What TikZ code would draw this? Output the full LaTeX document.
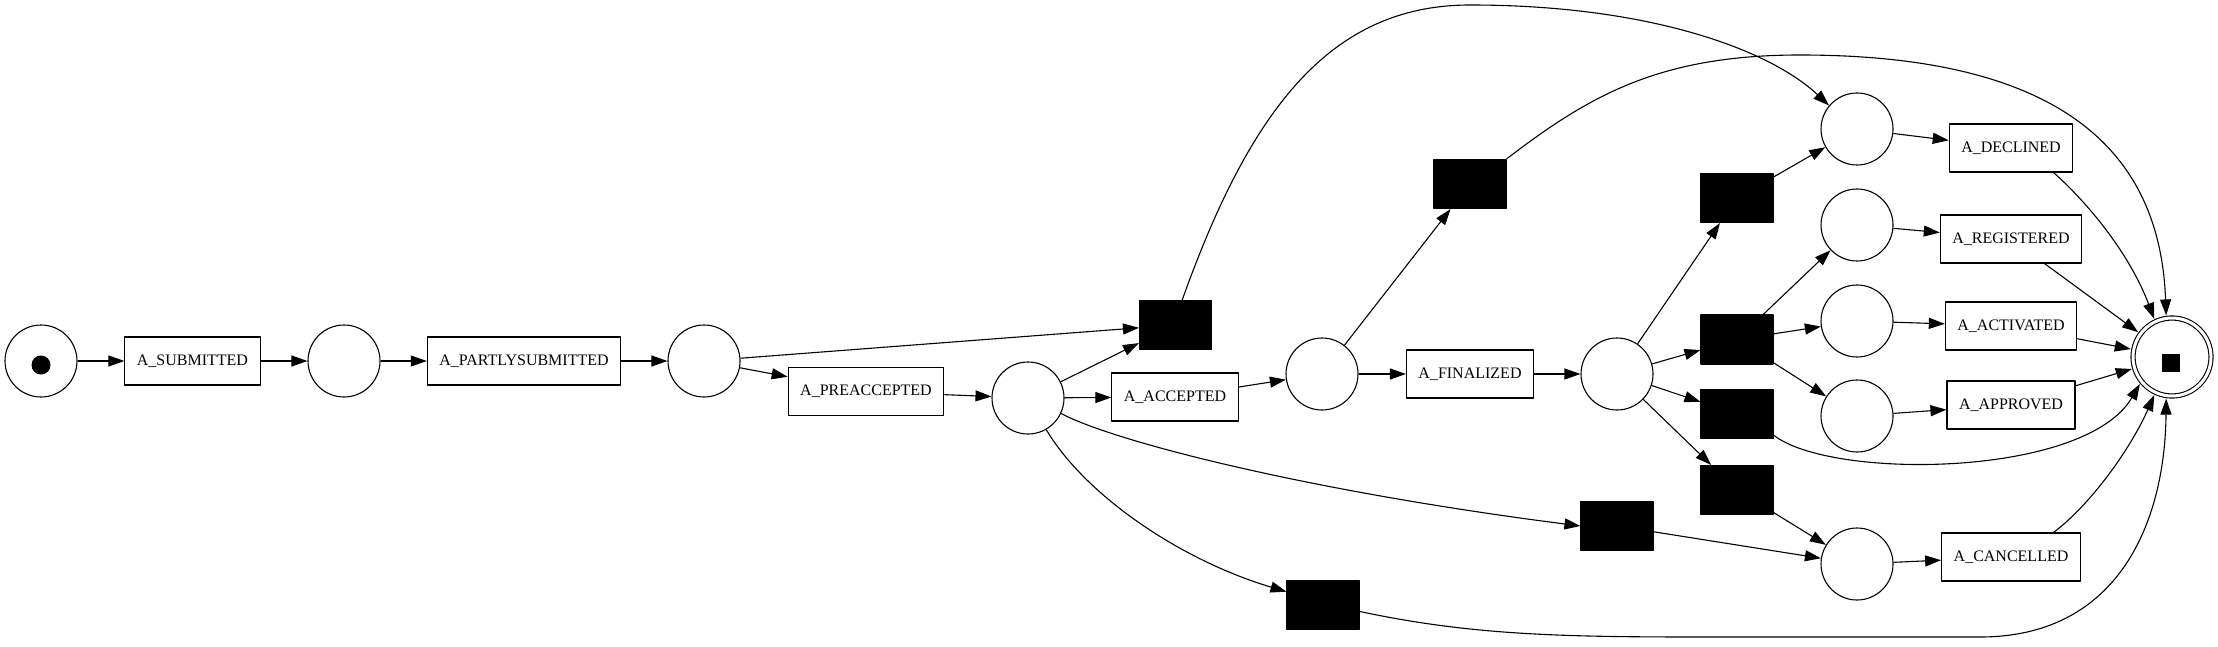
\documentclass[tikz,border=0pt]{standalone}
\usepackage{fontspec}
\setmainfont{Liberation Serif}
\usetikzlibrary{arrows.meta}
\begin{document}
\begin{tikzpicture}[x=1pt,y=-1pt,line width=1.1pt,line join=round,>={Triangle[length=16pt,width=11pt]},font=\fontsize{16}{19}\selectfont,
	place/.style={draw,circle,minimum size=72pt,inner sep=0pt},
	silent/.style={draw,fill=black,minimum width=72pt,minimum height=49pt,inner sep=0pt},
	task/.style={draw,minimum height=48pt,inner xsep=12pt,inner ysep=0pt}]
	\useasboundingbox (0,0) rectangle (2218,647);
	\node[place] (pstart) at (41,361) {};
	\node[fill,circle,inner sep=0pt,minimum size=19pt] (pstarttok) at (41,365) {};
	\node[task] (tsub) at (192.5,361) {A\_SUBMITTED};
	\node[place] (p1) at (344,361) {};
	\node[task] (tpart) at (524,361) {A\_PARTLYSUBMITTED};
	\node[place] (p2) at (704,361) {};
	\node[task] (tpre) at (866,391.5) {A\_PREACCEPTED};
	\node[place] (p3) at (1028,398) {};
	\node[silent] (tau1) at (1175.5,325) {};
	\node[task] (tacc) at (1175,397) {A\_ACCEPTED};
	\node[place] (p4) at (1322,374) {};
	\node[silent] (tau2) at (1470,184) {};
	\node[task] (tfin) at (1470,374) {A\_FINALIZED};
	\node[silent] (tau3) at (1323,605) {};
	\node[place] (p5) at (1617,374) {};
	\node[silent] (tau4) at (1737,198) {};
	\node[silent] (tau5) at (1737,339.5) {};
	\node[silent] (tau6) at (1737,414) {};
	\node[silent] (tau7) at (1737,490) {};
	\node[silent] (tau8) at (1617,526) {};
	\node[place] (p6) at (1857,129) {};
	\node[place] (p7) at (1857,225) {};
	\node[place] (p8) at (1857,321) {};
	\node[place] (p9) at (1857,416) {};
	\node[place] (p10) at (1857,564) {};
	\node[task] (tdec) at (2011,148) {A\_DECLINED};
	\node[task] (treg) at (2011,239) {A\_REGISTERED};
	\node[task] (tact) at (2011,326) {A\_ACTIVATED};
	\node[task] (tapp) at (2011,405) {A\_APPROVED};
	\node[task] (tcan) at (2011,557) {A\_CANCELLED};
	\node[place,minimum size=78pt,double,double distance=3pt,outer sep=3pt] (pend) at (2172,357) {};
	\node[fill,inner sep=0pt,minimum size=18pt] (pendtok) at (2171,363) {};
	\foreach \a/\b in {pstart/tsub,tsub/p1,p1/tpart,tpart/p2,p2/tpre,p2/tau1,tpre/p3,p3/tau1,p3/tacc,tacc/p4,p4/tau2,p4/tfin,tfin/p5,p5/tau4,p5/tau5,p5/tau6,p5/tau7,tau4/p6,tau5/p7,tau5/p8,tau5/p9,tau7/p10,tau8/p10,p6/tdec,p7/treg,p8/tact,p9/tapp,p10/tcan,treg/pend,tact/pend,tapp/pend}
		\draw[->] (\a)--(\b);
	\draw[->] (tau1.75)..controls (1250,110) and (1330,5)..(1470,5)..controls (1650,5) and (1770,50)..(p6.140);
	\draw[->] (tau2.north east)..controls (1590,95) and (1660,55)..(1800,55)..controls (2060,55) and (2160,150)..(pend.98);
	\draw[->] (p3.-25)..controls (1110,440) and (1300,490)..(tau8.west);
	\draw[->] (p3.-60)..controls (1085,495) and (1180,560)..(tau3.160);
	\draw[->] (tau3.-10)..controls (1470,635) and (1560,637)..(1700,637)--(1980,637)..controls (2120,637) and (2165,520)..(pend.-98);
	\draw[->] (tau6.-30)..controls (1830,480) and (2085,478)..(pend.-140);
	\draw[->] (tdec.-30)..controls (2090,205) and (2130,255)..(pend.115);
	\draw[->] (tcan.30)..controls (2090,505) and (2130,450)..(pend.-115);
\end{tikzpicture}
\end{document}
